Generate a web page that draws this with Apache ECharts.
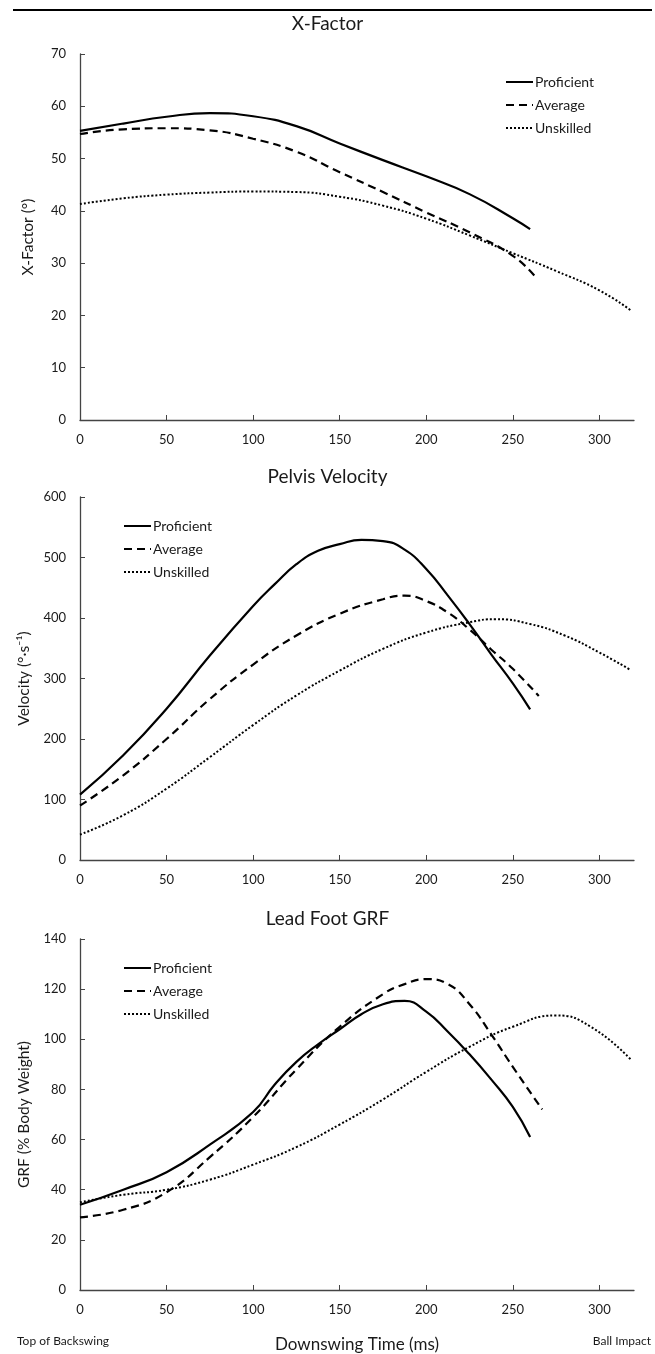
<!doctype html>
<html lang="en">
<head>
<meta charset="utf-8">
<title>Downswing kinematics</title>
<script src="https://cdn.jsdelivr.net/npm/echarts@6/dist/echarts.min.js"></script>
<style>
  html, body { margin: 0; padding: 0; background: #fff; }
  #main { width: 655px; height: 1354px; }
</style>
</head>
<body>
<div id="main"></div>
<script>
// time in ms from top of backswing
var xfProfT = [0, 25, 50, 75, 100, 125, 150, 175, 200, 225, 250, 260];
var xfProfV = [55.3, 56.7, 58.0, 58.7, 58.1, 56.2, 52.9, 49.7, 46.6, 43.2, 38.6, 36.5];
var xfAvgT = [0, 25, 50, 75, 100, 125, 150, 175, 200, 225, 250, 263];
var xfAvgV = [54.7, 55.6, 55.8, 55.4, 53.8, 51.3, 47.4, 43.6, 39.7, 35.9, 31.4, 27.4];
var xfUnsT = [0, 25, 50, 75, 100, 125, 150, 175, 200, 225, 250, 275, 300, 318];
var xfUnsV = [41.3, 42.4, 43.1, 43.5, 43.7, 43.6, 42.7, 41.0, 38.5, 35.3, 31.9, 28.5, 24.8, 21.0];

var pvProfT = [0, 25, 50, 75, 100, 112.5, 125, 137.5, 150, 162.5, 175, 187.5, 200, 212.5, 225, 237.5, 250, 260];
var pvProfV = [108, 173, 250, 338, 420, 456, 489, 511, 522, 529, 527, 513, 481, 437, 390, 340, 292, 249];
var pvAvgT = [0, 25, 50, 75, 100, 125, 150, 175, 187.5, 200, 212.5, 225, 237.5, 250, 265];
var pvAvgV = [90, 140, 200, 266, 323, 371, 407, 431, 437, 428, 409, 381, 348, 316, 271];
var pvUnsT = [0, 25, 50, 75, 100, 125, 150, 175, 200, 225, 240, 260, 280, 300, 318];
var pvUnsV = [42, 74, 118, 170, 223, 272, 313, 349, 376, 393, 398, 390, 371, 343, 314];

var grfProfT = [0, 25, 50, 75, 100, 112.5, 125, 137.5, 150, 162.5, 175, 187.5, 200, 212.5, 225, 237.5, 250, 260];
var grfProfV = [34, 40, 47, 58, 71, 82, 91, 98, 104, 110, 114, 115.3, 111, 103, 94, 84, 73, 61];
var grfAvgT = [0, 25, 50, 75, 100, 125, 150, 175, 187.5, 200, 212.5, 225, 237.5, 250, 267];
var grfAvgV = [29, 32, 39, 53, 69, 88, 105, 118, 122, 124, 122, 114, 102, 89, 72];
var grfUnsT = [0, 25, 50, 75, 100, 125, 150, 175, 200, 225, 250, 275, 295, 318];
var grfUnsV = [35, 38, 40, 44, 50, 57, 66, 76, 87, 97, 105, 109.5, 105, 92];

var groups = ['Proficient', 'Average', 'Unskilled'];
var titles = ['X-Factor', 'Pelvis Velocity', 'Lead Foot GRF'];
var yNames = ['X-Factor (°)', 'Velocity (°·s⁻¹)', 'GRF (% Body Weight)'];
var xTicks = [0, 50, 100, 150, 200, 250, 300];

function pairs(t, v) {
    return t.map(function (x, i) { return [x, v[i]]; });
}

var font = 'Lato, "Open Sans", sans-serif';
var ink = '#1a1a1a';
var dashStyles = ['solid', [8, 5], [2, 2]];
var widths = [2.2, 2.2, 2];

var gridTops = [54, 497, 939];
var gridHeights = [366, 363, 364];
var titleTops = [14, 467, 909];
var yMax = [70, 600, 140];
var yStep = [10, 100, 20];

var data = [
    [pairs(xfProfT, xfProfV), pairs(xfAvgT, xfAvgV), pairs(xfUnsT, xfUnsV)],
    [pairs(pvProfT, pvProfV), pairs(pvAvgT, pvAvgV), pairs(pvUnsT, pvUnsV)],
    [pairs(grfProfT, grfProfV), pairs(grfAvgT, grfAvgV), pairs(grfUnsT, grfUnsV)]
];

var grids = [], xAxes = [], yAxes = [], series = [], titleList = [];
for (var g = 0; g < 3; g++) {
    grids.push({ left: 80, right: 21, top: gridTops[g], height: gridHeights[g] });
    titleList.push({
        text: titles[g], left: 'center', top: titleTops[g], padding: 0,
        textStyle: { fontFamily: font, fontSize: 19, fontWeight: 'normal', color: ink }
    });
    xAxes.push({
        gridIndex: g, type: 'value', min: 0, max: 320,
        name: g === 2 ? 'Downswing Time (ms)' : '',
        nameLocation: 'middle', nameGap: 46,
        nameTextStyle: { fontFamily: font, fontSize: 17, color: ink },
        splitLine: { show: false },
        axisLine: { lineStyle: { color: '#444', width: 1.3 } },
        axisTick: { inside: true, length: 5, customValues: xTicks, lineStyle: { color: '#444' } },
        axisLabel: { customValues: xTicks, margin: 13, fontFamily: font, fontSize: 13, color: ink }
    });
    yAxes.push({
        gridIndex: g, type: 'value', min: 0, max: yMax[g], interval: yStep[g],
        name: yNames[g], nameLocation: 'middle', nameGap: 44,
        nameTextStyle: { fontFamily: font, fontSize: 15.5, color: ink },
        splitLine: { show: false },
        axisLine: { show: true, lineStyle: { color: '#444', width: 1.3 } },
        axisTick: { show: true, inside: true, length: 5, lineStyle: { color: '#444' } },
        axisLabel: { margin: 14, fontFamily: font, fontSize: 13, color: ink }
    });
    for (var s = 0; s < 3; s++) {
        series.push({
            name: groups[s], type: 'line', xAxisIndex: g, yAxisIndex: g,
            data: data[g][s], smooth: 0.5, symbol: 'none',
            lineStyle: { color: '#000', width: widths[s], type: dashStyles[s] },
            itemStyle: { color: '#000' }
        });
    }
}

var legendBase = {
    data: groups, orient: 'vertical', itemGap: 9, itemWidth: 27, itemHeight: 14,
    selectedMode: false,
    itemStyle: { opacity: 0 },
    textStyle: { fontFamily: font, fontSize: 14, color: ink, padding: [0, 0, 0, -3] }
};
var legends = [
    Object.assign({}, legendBase, { left: 500, top: 70 }),
    Object.assign({}, legendBase, { left: 118, top: 514 }),
    Object.assign({}, legendBase, { left: 118, top: 956 })
];

var chart = echarts.init(document.getElementById('main'), null, { renderer: 'canvas' });
chart.setOption({
    backgroundColor: '#fff',
    animation: false,
    title: titleList,
    legend: legends,
    grid: grids,
    xAxis: xAxes,
    yAxis: yAxes,
    series: series,
    graphic: [
        { type: 'line', shape: { x1: 13, y1: 10, x2: 652, y2: 10 }, style: { stroke: '#000', lineWidth: 2 } },
        { type: 'text', left: 17, top: 1335, style: { text: 'Top of Backswing', font: '12px ' + font, fill: ink } },
        { type: 'text', right: 4, top: 1335, style: { text: 'Ball Impact', font: '12px ' + font, fill: ink } }
    ]
});
</script>
</body>
</html>
